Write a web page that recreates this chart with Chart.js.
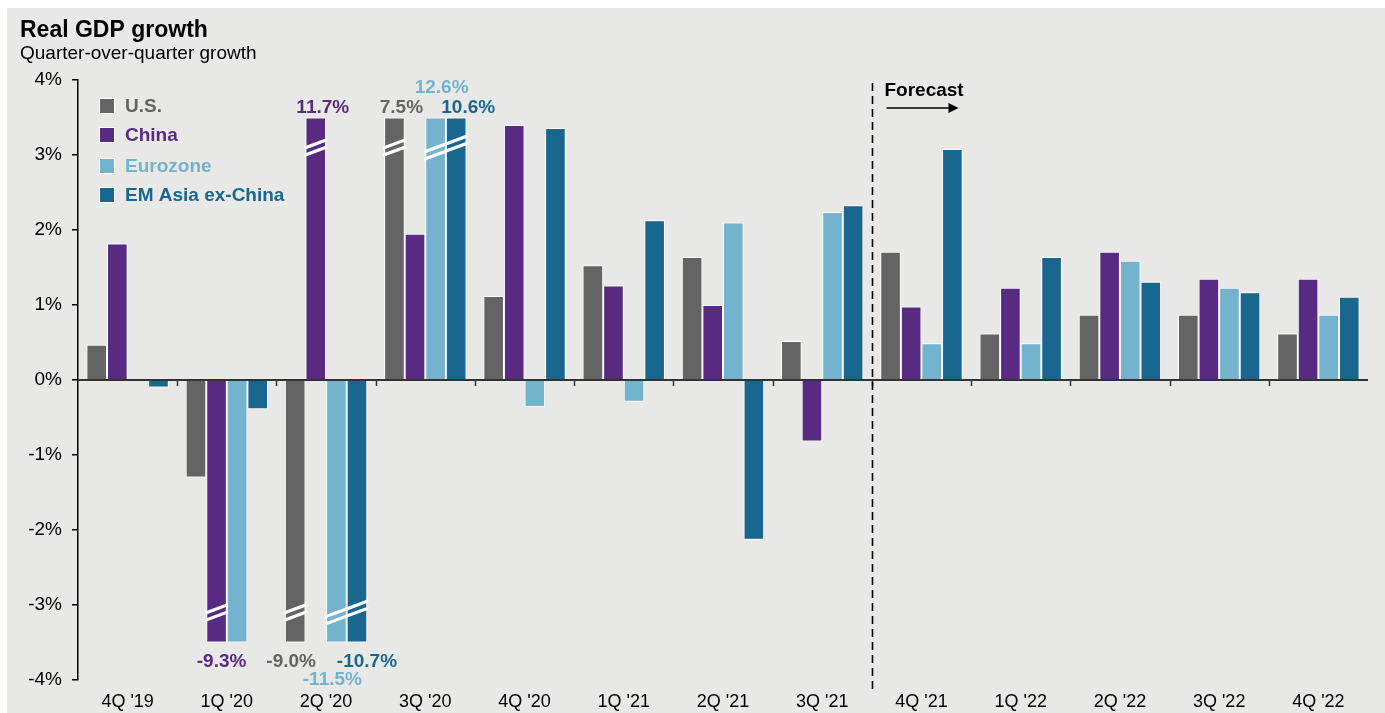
<!DOCTYPE html>
<html>
<head>
<meta charset="utf-8">
<script src="https://cdn.jsdelivr.net/npm/chart.js@4.4.0/dist/chart.umd.min.js"></script>
<style>
html, body { margin: 0; padding: 0; background: #fff; }
#wrap { position: relative; width: 1385px; height: 713px; }
</style>
</head>
<body>
<div id="wrap"><canvas id="gdp" width="1385" height="713"></canvas></div>
<script>
// quarter-over-quarter real GDP growth, %
const quarters = ["4Q '19", "1Q '20", "2Q '20", "3Q '20", "4Q '20", "1Q '21", "2Q '21", "3Q '21", "4Q '21", "1Q '22", "2Q '22", "3Q '22", "4Q '22"];
const us       = [0.47, -1.3, -9.0, 7.5, 1.12, 1.53, 1.64, 0.52, 1.71, 0.62, 0.87, 0.87, 0.62];
const china    = [1.82, -9.3, 11.7, 1.95, 3.4, 1.26, 1.0, -0.82, 0.98, 1.23, 1.71, 1.35, 1.35];
const eurozone = [0.0, -3.5, -11.5, 12.6, -0.36, -0.29, 2.1, 2.24, 0.49, 0.49, 1.59, 1.23, 0.87];
const emAsia   = [-0.1, -0.39, -10.7, 10.6, 3.36, 2.13, -2.13, 2.33, 3.08, 1.64, 1.31, 1.17, 1.11];
const seriesNames = ["U.S.", "China", "Eurozone", "EM Asia ex-China"];
const yTicks = [-4, -3, -2, -1, 0, 1, 2, 3, 4];
const forecastFrom = 8; // first forecast quarter (4Q '21)
const CAP = 3.5;        // bars beyond this are cut with a break mark

const colors = ["#646464", "#582a82", "#73b3ce", "#19678e"];
const FONT = '"Liberation Sans", Arial, sans-serif';

function capped(arr) {
	return arr.map(v => Math.max(-CAP, Math.min(CAP, v)));
}

// nudges for the labels of cut bars, "dataset-index": [dx, dy]
const labelNudge = {
	"1-2": [7, 0], "0-3": [7, 0], "2-3": [6, -20], "3-3": [12, 0],
	"1-1": [5, 0], "0-2": [-4, 0], "3-2": [10, 0], "2-2": [-4, 18]
};

const rawSeries = [us, china, eurozone, emAsia];

const gdpPlugin = {
	id: "gdpExtras",
	beforeDraw(chart) {
		const ctx = chart.ctx;
		ctx.save();
		ctx.fillStyle = "#fff";
		ctx.fillRect(0, 0, chart.width, chart.height);
		ctx.fillStyle = "#e8e8e7";
		ctx.fillRect(7, 8, chart.width - 7, chart.height - 8);

		ctx.fillStyle = "#000";
		ctx.textBaseline = "alphabetic";
		ctx.textAlign = "left";
		ctx.font = "bold 23px " + FONT;
		ctx.fillText("Real GDP growth", 20, 37);
		ctx.font = "19px " + FONT;
		ctx.fillText("Quarter-over-quarter growth", 20, 59);
		ctx.restore();
	},
	afterDatasetsDraw(chart) {
		const ctx = chart.ctx;
		const area = chart.chartArea;
		const ys = chart.scales.y;
		const zero = ys.getPixelForValue(0);
		const catW = (area.right - area.left) / quarters.length;

		// break marks on cut bars
		for (let j = 0; j < quarters.length; j++) {
			let groups = [];
			let cur = null;
			for (let i = 0; i < rawSeries.length; i++) {
				const v = rawSeries[i][j];
				const sign = v > CAP ? 1 : (v < -CAP ? -1 : 0);
				if (sign !== 0 && cur && cur.sign === sign && cur.last === i - 1) {
					cur.items.push(i); cur.last = i;
				} else if (sign !== 0) {
					cur = { sign: sign, items: [i], last: i };
					groups.push(cur);
				} else {
					cur = null;
				}
			}
			groups.forEach(g => {
				const bars = g.items.map(i => chart.getDatasetMeta(i).data[j]);
				const l = Math.min(...bars.map(b => b.x - b.width / 2));
				const r = Math.max(...bars.map(b => b.x + b.width / 2));
				const xref = (l + r) / 2;
				const yc = ys.getPixelForValue(g.sign * 3.1);
				bars.forEach(b => {
					const top = Math.min(b.y, b.base), bot = Math.max(b.y, b.base);
					const bl = b.x - b.width / 2, br = b.x + b.width / 2;
					ctx.save();
					ctx.beginPath();
					ctx.rect(bl - 1, top, br - bl + 2, bot - top);
					ctx.clip();
					ctx.strokeStyle = "#fff";
					ctx.lineWidth = 3.2;
					[-3.6, 3.6].forEach(off => {
						ctx.beginPath();
						ctx.moveTo(bl - 2, yc + off - 0.37 * (bl - 2 - xref));
						ctx.lineTo(br + 2, yc + off - 0.37 * (br + 2 - xref));
						ctx.stroke();
					});
					ctx.restore();
				});
			});
		}

		// labels for cut bars
		ctx.save();
		ctx.font = "bold 19px " + FONT;
		ctx.textAlign = "center";
		ctx.textBaseline = "middle";
		rawSeries.forEach((arr, i) => {
			arr.forEach((v, j) => {
				if (Math.abs(v) <= CAP) return;
				const b = chart.getDatasetMeta(i).data[j];
				const nudge = labelNudge[i + "-" + j] || [0, 0];
				const y = v > 0 ? Math.min(b.y, b.base) - 10 : Math.max(b.y, b.base) + 19;
				ctx.fillStyle = colors[i];
				ctx.fillText(v.toFixed(1) + "%", b.x + nudge[0], y + nudge[1]);
			});
		});
		ctx.restore();

		// zero line and category ticks
		ctx.save();
		ctx.strokeStyle = "#333";
		ctx.lineWidth = 2;
		ctx.beginPath();
		ctx.moveTo(area.left, zero);
		ctx.lineTo(area.right, zero);
		ctx.stroke();
		ctx.lineWidth = 1.5;
		for (let k = 1; k < quarters.length; k++) {
			const x = Math.round(area.left + k * catW) + 0.5;
			ctx.beginPath();
			ctx.moveTo(x, zero);
			ctx.lineTo(x, zero + 6);
			ctx.stroke();
		}
		ctx.restore();

		// forecast divider
		const fx = Math.round(area.left + forecastFrom * catW) + 0.5;
		ctx.save();
		ctx.strokeStyle = "#000";
		ctx.lineWidth = 1.6;
		ctx.setLineDash([8, 5]);
		ctx.beginPath();
		ctx.moveTo(fx, area.top + 3);
		ctx.lineTo(fx, area.bottom + 10);
		ctx.stroke();
		ctx.setLineDash([]);
		ctx.fillStyle = "#000";
		ctx.font = "bold 19px " + FONT;
		ctx.textAlign = "left";
		ctx.textBaseline = "middle";
		ctx.fillText("Forecast", fx + 12, 91);
		ctx.lineWidth = 1.3;
		ctx.beginPath();
		ctx.moveTo(fx + 14, 108);
		ctx.lineTo(fx + 78, 108);
		ctx.stroke();
		ctx.beginPath();
		ctx.moveTo(fx + 86, 108);
		ctx.lineTo(fx + 76, 103);
		ctx.lineTo(fx + 76, 113);
		ctx.closePath();
		ctx.fill();
		ctx.restore();

		// legend
		ctx.save();
		ctx.font = "bold 19px " + FONT;
		ctx.textAlign = "left";
		ctx.textBaseline = "middle";
		const rows = [106, 135, 166, 195];
		seriesNames.forEach((name, i) => {
			ctx.fillStyle = "#fff";
			ctx.fillRect(99, rows[i] - 8, 16, 16);
			ctx.fillStyle = colors[i];
			ctx.fillRect(100, rows[i] - 7, 14, 14);
			ctx.fillText(name, 125, rows[i] + 1);
		});
		ctx.restore();
	}
};

new Chart(document.getElementById("gdp"), {
	type: "bar",
	data: {
		labels: quarters,
		datasets: seriesNames.map((name, i) => ({
			label: name,
			data: capped(rawSeries[i]),
			backgroundColor: colors[i],
			borderColor: "#fff",
			borderWidth: 1,
			categoryPercentage: 0.83,
			barPercentage: 1.0
		}))
	},
	options: {
		responsive: false,
		animation: false,
		layout: { padding: { left: 7, right: 17, top: 80, bottom: 0 } },
		plugins: {
			legend: { display: false },
			tooltip: { enabled: false }
		},
		scales: {
			x: {
				grid: { display: false, drawTicks: false },
				border: { display: false },
				ticks: { color: "#000", font: { family: FONT, size: 18 }, padding: 11, maxRotation: 0 },
				afterFit(scale) { scale.height = 33; }
			},
			y: {
				min: -4,
				max: 4,
				afterBuildTicks(scale) { scale.ticks = yTicks.map(v => ({ value: v })); },
				ticks: { color: "#000", font: { family: FONT, size: 19 }, padding: 10, callback: v => v + "%" },
				grid: { drawOnChartArea: false, color: "#000", tickLength: 6, lineWidth: 1.5 },
				border: { color: "#000", width: 1.5 },
				afterFit(scale) { scale.width = 71; }
			}
		}
	},
	plugins: [gdpPlugin]
});
</script>
</body>
</html>
